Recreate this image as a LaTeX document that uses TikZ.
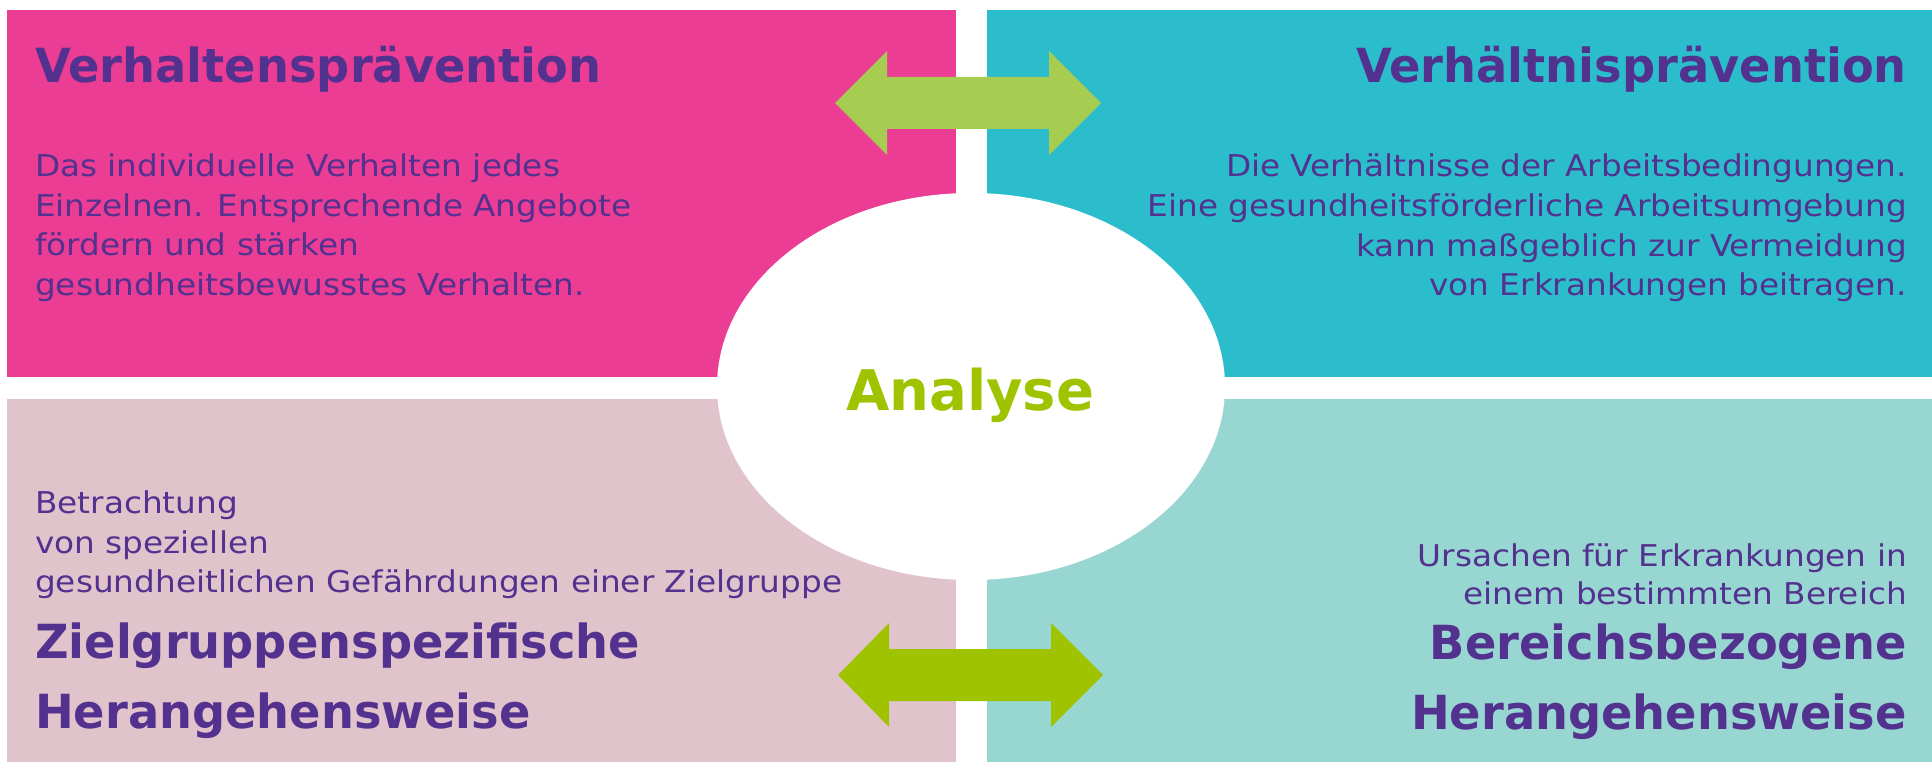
\documentclass[tikz,border=0pt]{standalone}
\usepackage{fontspec}
\usetikzlibrary{shapes.geometric}
\setmainfont{DejaVu Sans}
\newfontfamily\bodyfont{DejaVu Sans}[FakeStretch=1.09]
\newfontfamily\ttlfont{DejaVu Sans Bold}[FakeStretch=0.985]
\definecolor{pinkc}{HTML}{EA3D93}
\definecolor{tealc}{HTML}{2CBDCC}
\definecolor{mauvec}{HTML}{E0C3CB}
\definecolor{mintc}{HTML}{98D6D2}
\definecolor{purplec}{HTML}{53318F}
\definecolor{greenA}{HTML}{A6CC52}
\definecolor{greenB}{HTML}{A0C300}
\tikzset{
  body/.style={text=purplec, inner sep=0pt, font=\bodyfont\fontsize{30}{36}\selectfont},
  ttl/.style={text=purplec, inner sep=0pt, font=\ttlfont\fontsize{47}{56}\selectfont}
}
\begin{document}
\begin{tikzpicture}[x=1pt,y=-1pt]
\useasboundingbox (0,0) rectangle (1932,762);
\fill[white] (0,0) rectangle (1932,762);
% boxes
\fill[pinkc] (7,10) rectangle (956,377);
\fill[tealc] (987,10) rectangle (1932,377);
\fill[mauvec] (7,399) rectangle (956,762);
\fill[mintc] (987,399) rectangle (1932,762);
% ellipse
\node[ellipse, fill=white, minimum width=508pt, minimum height=387pt, inner sep=0pt, draw=none] (ana) at (971,386.5) {};
\node[text=greenB, inner sep=0pt, anchor=base, font=\fontsize{56}{60}\selectfont\bfseries] (anat) at (970,410) {Analyse};
% arrows
\fill[greenA] (835,103) -- (887,51) -- (887,77) -- (1049,77) -- (1049,51) -- (1101,103) -- (1049,155) -- (1049,129) -- (887,129) -- (887,155) -- cycle;
\fill[greenB] (838,675) -- (889,623) -- (889,649) -- (1051,649) -- (1051,623) -- (1103,675) -- (1051,727) -- (1051,701) -- (889,701) -- (889,727) -- cycle;
% top-left
\node[ttl, anchor=base west] (tl0) at (35,83) {Verhaltensprävention};
\node[body, anchor=base west] (tl1) at (35,177) {Das individuelle Verhalten jedes};
\node[body, anchor=base west] (tl2) at (35,216) {Einzelnen. Entsprechende Angebote};
\node[body, anchor=base west] (tl3) at (35,255) {fördern und stärken};
\node[body, anchor=base west] (tl4) at (35,295) {gesundheitsbewusstes Verhalten.};
% top-right
\node[ttl, anchor=base east] (tr0) at (1907,83) {Verhältnisprävention};
\node[body, anchor=base east] (tr1) at (1907,177) {Die Verhältnisse der Arbeitsbedingungen.};
\node[body, anchor=base east] (tr2) at (1907,216) {Eine gesundheitsförderliche Arbeitsumgebung};
\node[body, anchor=base east] (tr3) at (1907,256) {kann maßgeblich zur Vermeidung};
\node[body, anchor=base east] (tr4) at (1907,295) {von Erkrankungen beitragen.};
% bottom-left
\node[body, anchor=base west] (bl1) at (35,513) {Betrachtung};
\node[body, anchor=base west] (bl2) at (35,553) {von speziellen};
\node[body, anchor=base west] (bl3) at (35,592) {gesundheitlichen Gefährdungen einer Zielgruppe};
\node[ttl, anchor=base west] (bl4) at (35,658) {Zielgruppenspezifische};
\node[ttl, anchor=base west] (bl5) at (35,728) {Herangehensweise};
% bottom-right
\node[body, anchor=base east] (br1) at (1907,566) {Ursachen für Erkrankungen in};
\node[body, anchor=base east] (br2) at (1907,604) {einem bestimmten Bereich};
\node[ttl, anchor=base east] (br3) at (1907,659) {Bereichsbezogene};
\node[ttl, anchor=base east] (br4) at (1907,729) {Herangehensweise};
\end{tikzpicture}
\end{document}
